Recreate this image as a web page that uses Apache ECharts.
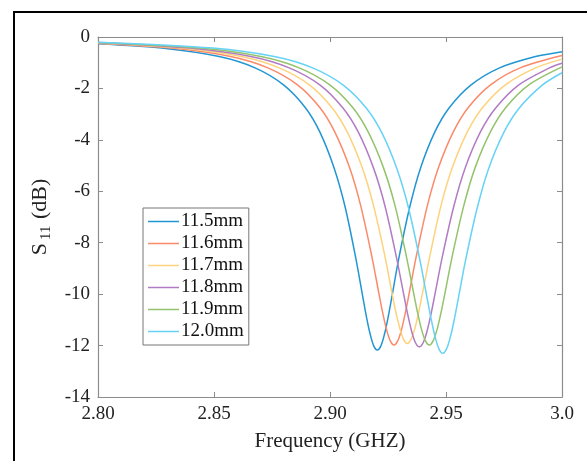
<!DOCTYPE html>
<html>
<head>
<meta charset="utf-8">
<script src="https://cdn.jsdelivr.net/npm/echarts@6/dist/echarts.min.js"></script>
<style>html,body{margin:0;padding:0;background:#fff;}#c{width:587px;height:461px;}</style>
</head>
<body>
<div id="c"></div>
<script>
const seriesNames = ['11.5mm', '11.6mm', '11.7mm', '11.8mm', '11.9mm', '12.0mm'];
const xTicks = ['2.80', '2.85', '2.90', '2.95', '3.0'];

const f115 = [2.80, 2.8274, 2.8522, 2.8677, 2.8801, 2.8894, 2.8956, 2.9018, 2.9065, 2.9111, 2.9142, 2.91575, 2.9173, 2.91885, 2.9204, 2.92195, 2.9235, 2.92505, 2.9266, 2.9297, 2.9344, 2.9390, 2.9452, 2.9514, 2.9607, 2.9731, 2.9886, 3.0];
const s115 = [-0.26, -0.43, -0.76, -1.20, -1.87, -2.75, -3.69, -5.10, -6.60, -8.59, -10.14, -10.90, -11.55, -12.01, -12.17, -12.01, -11.55, -10.90, -10.14, -8.59, -6.60, -5.10, -3.69, -2.75, -1.87, -1.20, -0.76, -0.57];

const f116 = [2.80, 2.8316, 2.8572, 2.8732, 2.8860, 2.8956, 2.9020, 2.9084, 2.9132, 2.9180, 2.9212, 2.9228, 2.9244, 2.9260, 2.9276, 2.9292, 2.9308, 2.9324, 2.9340, 2.9372, 2.9420, 2.9468, 2.9532, 2.9596, 2.9692, 2.9820, 3.0];
const s116 = [-0.25, -0.43, -0.76, -1.20, -1.86, -2.74, -3.68, -5.07, -6.55, -8.52, -10.03, -10.76, -11.39, -11.82, -11.98, -11.82, -11.39, -10.76, -10.03, -8.52, -6.55, -5.07, -3.68, -2.74, -1.86, -1.20, -0.72];

const f117 = [2.80, 2.8358, 2.8618, 2.8781, 2.8911, 2.9008, 2.9073, 2.9138, 2.9187, 2.9236, 2.9268, 2.9284, 2.9301, 2.9317, 2.9333, 2.9349, 2.9366, 2.9382, 2.9398, 2.9431, 2.9479, 2.9528, 2.9593, 2.9658, 2.9756, 2.9886, 3.0];
const s117 = [-0.23, -0.43, -0.76, -1.20, -1.86, -2.74, -3.67, -5.06, -6.54, -8.49, -9.99, -10.71, -11.33, -11.76, -11.92, -11.76, -11.33, -10.71, -9.99, -8.49, -6.54, -5.06, -3.67, -2.74, -1.86, -1.20, -0.86];

const f118 = [2.80, 2.8395, 2.8659, 2.8824, 2.8956, 2.9055, 2.9121, 2.9187, 2.9237, 2.9286, 2.9319, 2.93355, 2.9352, 2.93685, 2.9385, 2.94015, 2.9418, 2.94345, 2.9451, 2.9484, 2.9534, 2.9583, 2.9649, 2.9715, 2.9814, 2.9946, 3.0];
const s118 = [-0.22, -0.43, -0.76, -1.20, -1.86, -2.75, -3.68, -5.08, -6.57, -8.55, -10.07, -10.81, -11.45, -11.89, -12.05, -11.89, -11.45, -10.81, -10.07, -8.55, -6.57, -5.08, -3.68, -2.75, -1.86, -1.20, -1.02];

const f119 = [2.80, 2.8438, 2.8702, 2.8867, 2.8999, 2.9098, 2.9164, 2.9230, 2.9280, 2.9329, 2.9362, 2.93785, 2.9395, 2.94115, 2.9428, 2.94445, 2.9461, 2.94775, 2.9494, 2.9527, 2.9577, 2.9626, 2.9692, 2.9758, 2.9857, 3.0];
const s119 = [-0.21, -0.43, -0.76, -1.20, -1.86, -2.74, -3.68, -5.07, -6.55, -8.52, -10.03, -10.76, -11.39, -11.82, -11.98, -11.82, -11.39, -10.76, -10.03, -8.52, -6.55, -5.07, -3.68, -2.74, -1.86, -1.16];

const f120 = [2.80, 2.8496, 2.8760, 2.8925, 2.9057, 2.9156, 2.9222, 2.9288, 2.9338, 2.9387, 2.9420, 2.94365, 2.9453, 2.94695, 2.9486, 2.95025, 2.9519, 2.95355, 2.9552, 2.9585, 2.9635, 2.9684, 2.9750, 2.9816, 2.9915, 3.0];
const s120 = [-0.20, -0.43, -0.76, -1.20, -1.87, -2.76, -3.70, -5.11, -6.63, -8.65, -10.22, -10.99, -11.66, -12.13, -12.30, -12.13, -11.66, -10.99, -10.22, -8.65, -6.63, -5.11, -3.70, -2.76, -1.87, -1.39];

const freqs = [f115, f116, f117, f118, f119, f120];
const vals = [s115, s116, s117, s118, s119, s120];
const colors = ['#2196d3', '#fb8a6a', '#fdd27c', '#b27bc4', '#93c36a', '#66d2f5'];

const FONT = 'Liberation Serif';
const axisGray = '#8c8c8c';

const chart = echarts.init(document.getElementById('c'), null, {renderer: 'canvas'});

const series = seriesNames.map((name, k) => ({
  name: name,
  type: 'line',
  xAxisIndex: 0,
  yAxisIndex: 0,
  data: freqs[k].map((x, i) => [x, vals[k][i]]),
  showSymbol: false,
  smooth: 0.3,
  lineStyle: {width: 1.5, color: colors[k]},
  itemStyle: {color: colors[k]},
  z: 3 + k
}));

chart.setOption({
  animation: false,
  backgroundColor: '#fff',
  graphic: [{
    type: 'rect',
    z: -10,
    shape: {x: 14, y: 12, width: 640, height: 520},
    style: {fill: 'none', stroke: '#000', lineWidth: 2}
  }],
  grid: {left: 98, right: 25, top: 37, bottom: 64, containLabel: false},
  legend: {
    orient: 'vertical',
    left: 143,
    top: 208,
    data: seriesNames,
    icon: 'rect',
    itemWidth: 31,
    itemHeight: 1.5,
    itemGap: 3,
    borderColor: '#777',
    borderWidth: 1,
    padding: [4, 5, 4, 5],
    textStyle: {fontFamily: FONT, fontSize: 19, color: '#111', lineHeight: 19, padding: [0, 0, 0, -3]}
  },
  xAxis: [{
    type: 'value',
    min: 2.8,
    max: 3.0,
    interval: 0.05,
    name: 'Frequency (GHZ)',
    nameLocation: 'middle',
    nameGap: 34,
    nameTextStyle: {fontFamily: FONT, fontSize: 21, color: '#222'},
    axisLine: {show: true, onZero: false, lineStyle: {color: axisGray, width: 1.2}},
    axisTick: {show: true, inside: true, length: 5, lineStyle: {color: axisGray}},
    splitLine: {show: false},
    axisLabel: {
      fontFamily: FONT, fontSize: 19, color: '#222', margin: 8,
      formatter: function (v) {
        const idx = Math.round((v - 2.8) / 0.05);
        return xTicks[idx] !== undefined ? xTicks[idx] : '';
      }
    }
  }, {
    type: 'value',
    position: 'top',
    min: 2.8,
    max: 3.0,
    interval: 0.05,
    axisLine: {show: true, onZero: false, lineStyle: {color: axisGray, width: 1.2}},
    axisTick: {show: true, inside: true, length: 5, lineStyle: {color: axisGray}},
    axisLabel: {show: false},
    splitLine: {show: false}
  }],
  yAxis: [{
    type: 'value',
    min: -14,
    max: 0,
    interval: 2,
    name: '{a|S}{b|11}{a| (dB)}',
    nameLocation: 'middle',
    nameGap: 43,
    nameRotate: 90,
    nameTextStyle: {
      color: '#222',
      rich: {
        a: {fontFamily: FONT, fontSize: 22, color: '#222', lineHeight: 28},
        b: {fontFamily: FONT, fontSize: 15, color: '#222', lineHeight: 28, verticalAlign: 'bottom', padding: [0, 1, 0, 3]}
      }
    },
    axisLine: {show: true, onZero: false, lineStyle: {color: axisGray, width: 1.2}},
    axisTick: {show: true, inside: true, length: 5, lineStyle: {color: axisGray}},
    splitLine: {show: false},
    axisLabel: {fontFamily: FONT, fontSize: 19, color: '#222', margin: 8}
  }, {
    type: 'value',
    position: 'right',
    min: -14,
    max: 0,
    interval: 2,
    axisLine: {show: true, onZero: false, lineStyle: {color: axisGray, width: 1.2}},
    axisTick: {show: true, inside: true, length: 5, lineStyle: {color: axisGray}},
    axisLabel: {show: false},
    splitLine: {show: false}
  }],
  series: series
});
</script>
</body>
</html>
